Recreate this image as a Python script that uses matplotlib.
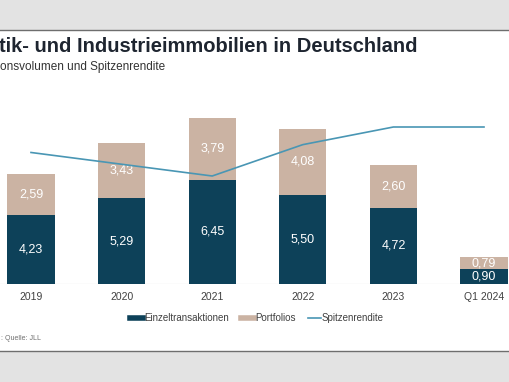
import matplotlib.pyplot as plt
from matplotlib.lines import Line2D
from matplotlib.patches import Rectangle
import numpy as np

# data
years = ["2019", "2020", "2021", "2022", "2023", "Q1 2024"]
einzel = [4.23, 5.29, 6.45, 5.50, 4.72, 0.90]
portfolios = [2.59, 3.43, 3.79, 4.08, 2.60, 0.79]
spitzenrendite = [3.6, 3.3, 3.0, 3.8, 4.25, 4.25]

dark = "#0d4159"
tan = "#cbb3a3"
teal = "#4996b4"

W, H = 510, 382
fig = plt.figure(figsize=(W / 100, H / 100), dpi=100)
fig.patch.set_facecolor("#e3e3e3")

# white slide panel with grey border lines
panel_bot = (H - 351) / H
panel_top = (H - 30) / H
fig.patches.append(Rectangle((0, panel_bot), 1, panel_top - panel_bot,
                             transform=fig.transFigure, facecolor="white",
                             edgecolor="none", zorder=-5))
for yy in (panel_bot, panel_top):
    fig.add_artist(Line2D([0, 1], [yy, yy], transform=fig.transFigure,
                          color="#6e6e6e", lw=1.0, zorder=-4))

# axes: baseline at 284 px, top at 100 px
ax_bot = (H - 284) / H
ax_h = 184 / H
ax = fig.add_axes([0, ax_bot, 1, ax_h])
ax.set_facecolor("none")

x = np.arange(len(years))
bw = 0.52
ax.bar(x, einzel, bw, color=dark, zorder=2)
ax.bar(x, portfolios, bw, bottom=einzel, color=tan, zorder=2)

for xi, a, b in zip(x, einzel, portfolios):
    ax.text(xi, a / 2, f"{a:.2f}".replace(".", ","), ha="center", va="center",
            color="white", fontsize=9, family="Liberation Sans", zorder=3)
    ax.text(xi, a + b / 2, f"{b:.2f}".replace(".", ","), ha="center", va="center",
            color="white", fontsize=9, family="Liberation Sans", zorder=3)

ax.set_xlim(-31 / 90.6, (510 - 31) / 90.6)
ax.set_ylim(0, 184 / 16.2)
ax.axhline(0, color="#c4c4c4", lw=0.8, zorder=1)
for s in ax.spines.values():
    s.set_visible(False)
ax.set_yticks([])
ax.set_xticks(x)
ax.set_xticklabels(years, fontsize=7.5, color="#404040", family="Liberation Sans")
ax.tick_params(axis="x", length=0, pad=6)

ax2 = ax.twinx()
ax2.set_facecolor("none")
ax2.plot(x, spitzenrendite, color=teal, lw=1.2, zorder=4)
ax2.set_ylim(3.0 - 108 / 39.2, 3.0 + 76 / 39.2)
ax2.set_yticks([])
for s in ax2.spines.values():
    s.set_visible(False)

# titles
fig.text(-0.002, (H - 47) / H, "tik- und Industrieimmobilien in Deutschland",
         fontsize=14.5, fontweight="bold", color="#1e2530", va="center",
         family="Liberation Sans")
fig.text(0.0, (H - 67) / H, "onsvolumen und Spitzenrendite",
         fontsize=8.5, color="#333333", va="center", family="Liberation Sans")

handles = [Line2D([], [], color=dark, lw=4),
           Line2D([], [], color=tan, lw=4),
           Line2D([], [], color=teal, lw=1.2)]
fig.legend(handles, ["Einzeltransaktionen", "Portfolios", "Spitzenrendite"],
           loc="center", bbox_to_anchor=(257 / W, (H - 318) / H), ncol=3,
           frameon=False, handlelength=1.3, handletextpad=0.1,
           columnspacing=1.3, prop={"family": "Liberation Sans", "size": 7},
           labelcolor="#404040")

fig.text(0.002, (H - 338) / H, ": Quelle: JLL", fontsize=5, color="#707070",
         va="center", family="Liberation Sans")

fig.savefig("out.png", dpi=100, facecolor=fig.get_facecolor())
